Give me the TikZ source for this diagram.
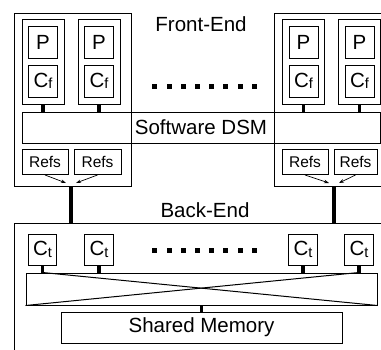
\documentclass[tikz,border=0pt]{standalone}
\usepackage{fontspec}
\setmainfont{Liberation Sans}
\usetikzlibrary{arrows.meta}
\tikzset{
  outer/.style={draw, line width=1.4pt, inner sep=0pt},
  box/.style={draw, line width=1pt, inner sep=0pt},
  bus/.style={line width=3.5pt},
  link/.style={line width=4.5pt},
  refarrow/.style={-{Stealth[length=5pt,width=3.5pt]}, line width=0.7pt},
}
\newcommand{\bigfont}{\fontsize{20.5}{20.5}\selectfont}
\newcommand{\cache}[1]{C\raisebox{-1.5pt}{\fontsize{14.5}{14.5}\selectfont #1}}
% processor column: name, x of centre
\newcommand{\proc}[2]{
\node[box, minimum width=42pt, minimum height=85pt] (#1) at (#2,61.5) {};
\node[box, minimum width=29pt, minimum height=32pt, font=\bigfont] (#1p) at (#2,42) {P};
\node[box, minimum width=29pt, minimum height=32pt, font=\bigfont] (#1c) at (#2,81) {\cache{f}};
\draw[bus] (#1.south) -- (#1.south |- dsm.north);
}
% back-end cache: name, x of centre
\newcommand{\bcache}[2]{
\node[box, minimum width=28.5pt, minimum height=31pt, font=\bigfont] (#1) at (#2,249.5) {\cache{t}};
\draw[bus] (#1.south) -- (#1.south |- xbar.north);
}

\begin{document}
\begin{tikzpicture}[x=1pt,y=-1pt]
\useasboundingbox (0,0) rectangle (381,349);
\clip (0,0) rectangle (381,349);

% front-end boxes
\node[outer, minimum width=117pt, minimum height=173pt, anchor=north west] (feL) at (14,13) {};
\node[outer, minimum width=117pt, minimum height=173pt, anchor=north west] (feR) at (274,13) {};
\node[font=\bigfont] (fe) at (201,24) {Front-End};

% software DSM
\node[box, minimum width=358pt, minimum height=31pt, font=\bigfont] (dsm) at (201,127.5) {Software DSM};

\proc{pa}{43}
\proc{pb}{99}
\proc{pc}{303.5}
\proc{pd}{359.5}

\foreach \i in {0,...,7}
  \fill (152.3+\i*14.2,84.3) rectangle ++(5,5);

% refs
\node[box, minimum width=46pt, minimum height=25pt, font=\fontsize{15.5}{15.5}\selectfont] (ra) at (45,162) {Refs};
\node[box, minimum width=47pt, minimum height=25pt, font=\fontsize{15.5}{15.5}\selectfont] (rb) at (97.5,162) {Refs};
\node[box, minimum width=46pt, minimum height=25pt, font=\fontsize{15.5}{15.5}\selectfont] (rc) at (305,162) {Refs};
\node[box, minimum width=43pt, minimum height=25pt, font=\fontsize{15.5}{15.5}\selectfont] (rd) at (355.5,162) {Refs};

% back-end
\node[outer, minimum width=390pt, minimum height=140pt, anchor=north west] (be) at (14,223) {};
\node[font=\bigfont] (bel) at (205,210) {Back-End};

\coordinate (jl) at (71,186);
\coordinate (jr) at (334,186);
\draw[link] (jl) -- (jl |- be.north);
\draw[link] (jr) -- (jr |- be.north);
\draw[refarrow] (ra.south) -- ([xshift=-5pt,yshift=3pt]jl);
\draw[refarrow] (rb.south) -- ([xshift=5pt,yshift=3pt]jl);
\draw[refarrow] (rc.south) -- ([xshift=-5pt,yshift=3pt]jr);
\draw[refarrow] (rd.south) -- ([xshift=5pt,yshift=3pt]jr);

% interconnect
\node[box, minimum width=351pt, minimum height=32pt] (xbar) at (201.5,289) {};
\bcache{ca}{42.5}
\bcache{cb}{99}
\bcache{cc}{303}
\bcache{cd}{359}
\draw[line width=1pt] (ca.south |- xbar.north) -- (xbar.south east);
\draw[line width=1pt] (xbar.south west) -- (cd.south |- xbar.north);

\foreach \i in {0,...,7}
  \fill (152.3+\i*14.2,248) rectangle ++(5,5);

% shared memory
\node[box, minimum width=281pt, minimum height=31pt, font=\bigfont] (mem) at (201.5,327.5) {Shared Memory};
\draw[bus] (xbar.south) -- (mem.north);
\end{tikzpicture}
\end{document}
